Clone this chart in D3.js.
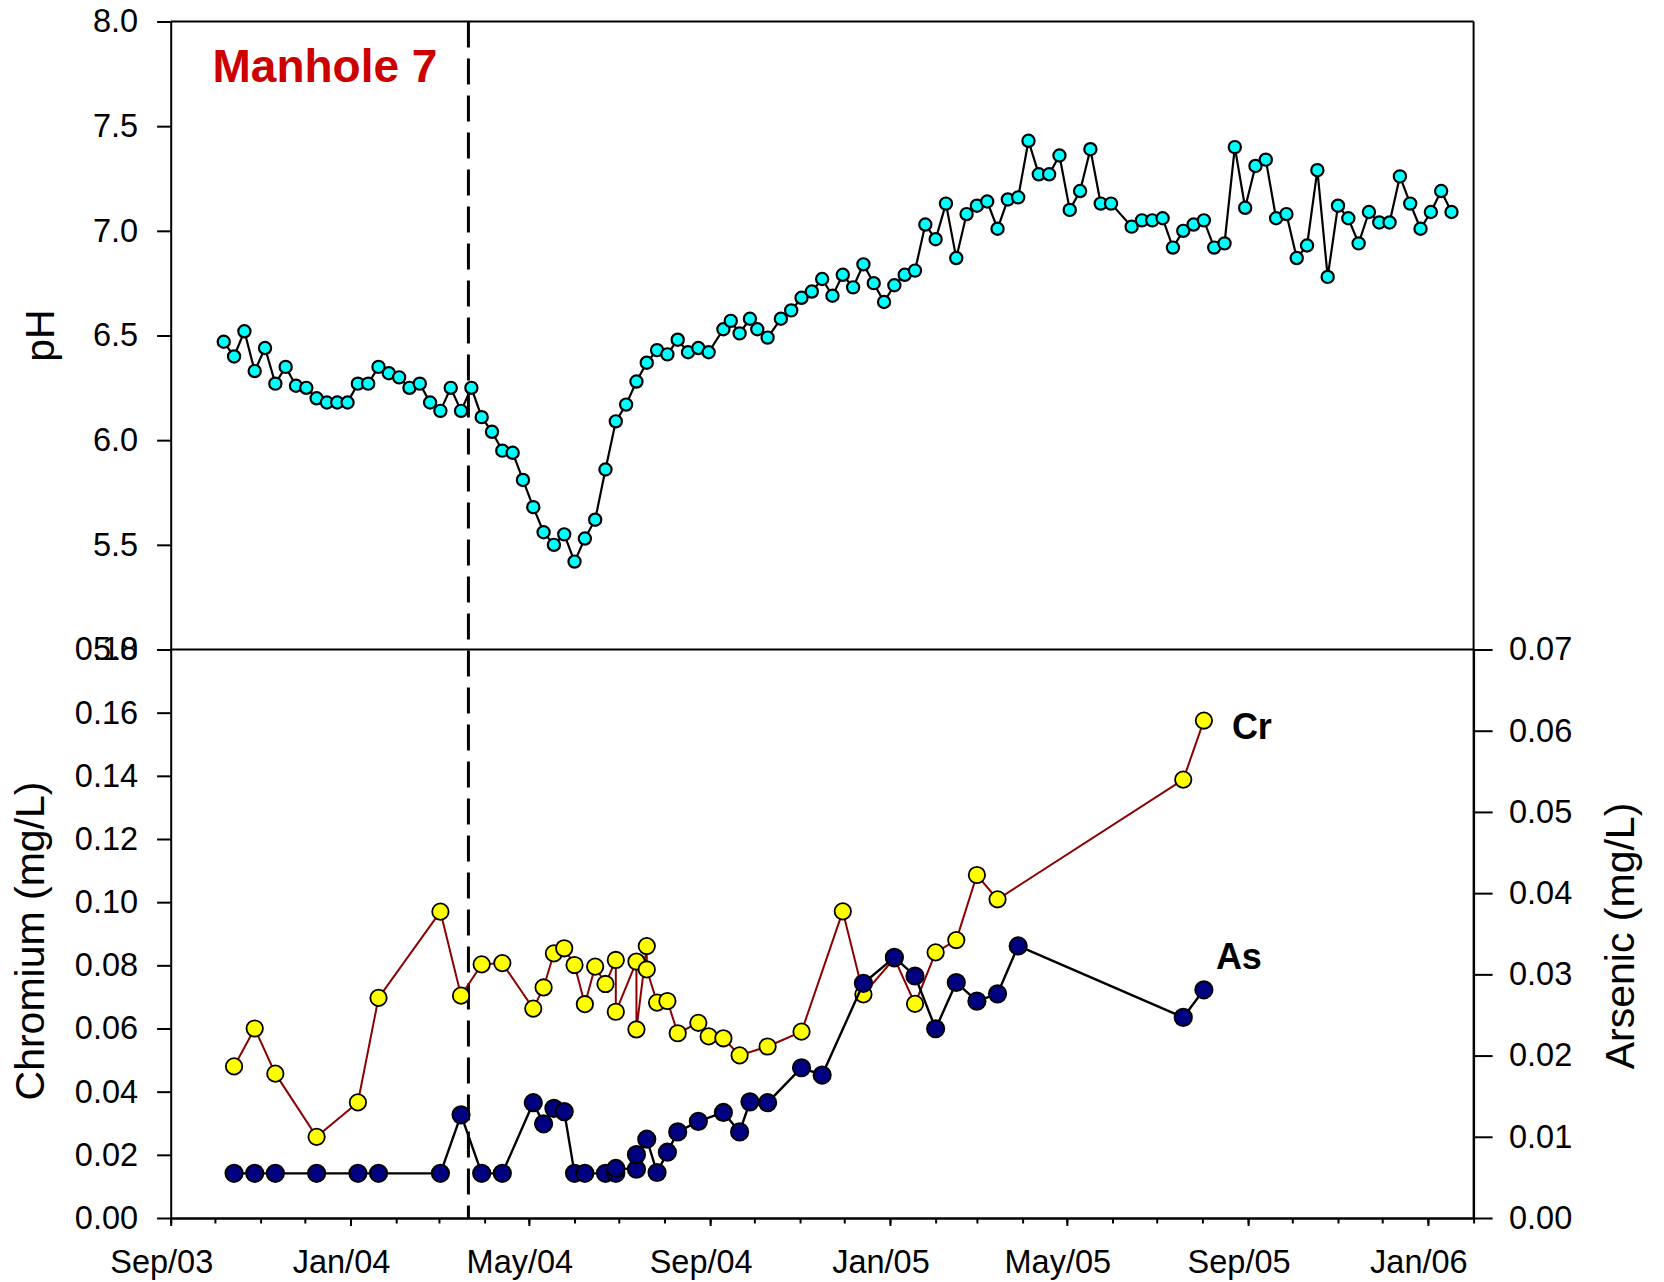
<!DOCTYPE html>
<html>
<head>
<meta charset="utf-8">
<script src="https://cdn.jsdelivr.net/npm/d3@7"></script>
<style>
  html, body { margin: 0; padding: 0; background: #fff; }
  svg { display: block; font-family: "Liberation Sans", Arial, Helvetica, sans-serif; }
</style>
</head>
<body>
<svg id="chart" width="1664" height="1282"></svg>
<script>
// ---------------- DATA ----------------
const phDates = [
  "2003-10-07","2003-10-14","2003-10-21","2003-10-28",
  "2003-11-04","2003-11-11","2003-11-18","2003-11-25",
  "2003-12-02","2003-12-09","2003-12-16","2003-12-23","2003-12-30",
  "2004-01-06","2004-01-13","2004-01-20","2004-01-27",
  "2004-02-03","2004-02-10","2004-02-17","2004-02-24",
  "2004-03-02","2004-03-09","2004-03-16","2004-03-23","2004-03-30",
  "2004-04-06","2004-04-13","2004-04-20","2004-04-27",
  "2004-05-04","2004-05-11","2004-05-18","2004-05-25",
  "2004-06-01","2004-06-08","2004-06-15","2004-06-22","2004-06-29",
  "2004-07-06","2004-07-13","2004-07-20","2004-07-27",
  "2004-08-03","2004-08-10","2004-08-17","2004-08-24","2004-08-31",
  "2004-09-10","2004-09-15","2004-09-21","2004-09-28",
  "2004-10-03","2004-10-10","2004-10-19","2004-10-26",
  "2004-11-02","2004-11-09","2004-11-16","2004-11-23","2004-11-30",
  "2004-12-07","2004-12-14","2004-12-21","2004-12-28",
  "2005-01-04","2005-01-11","2005-01-18","2005-01-25",
  "2005-02-01","2005-02-08","2005-02-15","2005-02-22",
  "2005-03-01","2005-03-08","2005-03-15","2005-03-22","2005-03-29",
  "2005-04-05","2005-04-12","2005-04-19","2005-04-26",
  "2005-05-03","2005-05-10","2005-05-17","2005-05-24","2005-05-31",
  "2005-06-14","2005-06-21","2005-06-28",
  "2005-07-05","2005-07-12","2005-07-19","2005-07-26",
  "2005-08-02","2005-08-09","2005-08-16","2005-08-23","2005-08-30",
  "2005-09-06","2005-09-13","2005-09-20","2005-09-27",
  "2005-10-04","2005-10-11","2005-10-18","2005-10-25",
  "2005-11-01","2005-11-08","2005-11-15","2005-11-22","2005-11-29",
  "2005-12-06","2005-12-13","2005-12-20","2005-12-27",
  "2006-01-03","2006-01-10","2006-01-17"
];
const phValues = [
  6.47, 6.40, 6.52, 6.33,
  6.44, 6.27, 6.35, 6.26,
  6.25, 6.20, 6.18, 6.18, 6.18,
  6.27, 6.27, 6.35, 6.32,
  6.30, 6.25, 6.27, 6.18,
  6.14, 6.25, 6.14, 6.25, 6.11,
  6.04, 5.95, 5.94, 5.81,
  5.68, 5.56, 5.50, 5.55,
  5.42, 5.53, 5.62, 5.86, 6.09,
  6.17, 6.28, 6.37, 6.43,
  6.41, 6.48, 6.42, 6.44, 6.42,
  6.53, 6.57, 6.51, 6.58,
  6.53, 6.49, 6.58, 6.62,
  6.68, 6.71, 6.77, 6.69, 6.79,
  6.73, 6.84, 6.75, 6.66,
  6.74, 6.79, 6.81, 7.03,
  6.96, 7.13, 6.87, 7.08,
  7.12, 7.14, 7.01, 7.15, 7.16,
  7.43, 7.27, 7.27, 7.36,
  7.10, 7.19, 7.39, 7.13, 7.13,
  7.02, 7.05, 7.05,
  7.06, 6.92, 7.00, 7.03,
  7.05, 6.92, 6.94, 7.40, 7.11,
  7.31, 7.34, 7.06, 7.08,
  6.87, 6.93, 7.29, 6.78,
  7.12, 7.06, 6.94, 7.09, 7.04,
  7.04, 7.26, 7.13, 7.01,
  7.09, 7.19, 7.09
];

const crDates = [
  "2003-10-14","2003-10-28","2003-11-11","2003-12-09","2004-01-06","2004-01-20",
  "2004-03-02","2004-03-16","2004-03-30","2004-04-13","2004-05-04","2004-05-11",
  "2004-05-18","2004-05-25","2004-06-01","2004-06-08","2004-06-15","2004-06-22",
  "2004-06-29","2004-06-29","2004-07-13","2004-07-13","2004-07-20","2004-07-20",
  "2004-07-27","2004-08-03","2004-08-10","2004-08-24","2004-08-31","2004-09-10",
  "2004-09-21","2004-10-10","2004-11-02","2004-11-30","2004-12-14","2005-01-04",
  "2005-01-18","2005-02-01","2005-02-15","2005-03-01","2005-03-15","2005-07-19",
  "2005-08-02"
];
const crValues = [
  0.0480, 0.0600, 0.0457, 0.0257, 0.0366, 0.0697,
  0.0970, 0.0704, 0.0803, 0.0807, 0.0663, 0.0730,
  0.0838, 0.0854, 0.0801, 0.0677, 0.0796, 0.0741,
  0.0817, 0.0653, 0.0812, 0.0597, 0.0861, 0.0787,
  0.0682, 0.0687, 0.0585, 0.0618, 0.0575, 0.0569,
  0.0515, 0.0543, 0.0590, 0.0971, 0.0708, 0.0822,
  0.0678, 0.0841, 0.0880, 0.1086, 0.1009, 0.1388,
  0.1575
];

const asDates = [
  "2003-10-14","2003-10-28","2003-11-11","2003-12-09","2004-01-06","2004-01-20",
  "2004-03-02","2004-03-16","2004-03-30","2004-04-13","2004-05-04","2004-05-11",
  "2004-05-18","2004-05-25","2004-06-01","2004-06-08","2004-06-22","2004-06-29",
  "2004-06-29","2004-07-13","2004-07-13","2004-07-20","2004-07-27","2004-08-03",
  "2004-08-10","2004-08-24","2004-09-10","2004-09-21","2004-09-28","2004-10-10",
  "2004-11-02","2004-11-16","2004-12-14","2005-01-04","2005-01-18","2005-02-01",
  "2005-02-15","2005-03-01","2005-03-15","2005-03-29","2005-07-19","2005-08-02"
];
const asValues = [
  0.0055, 0.0055, 0.0055, 0.0055, 0.0055, 0.0055,
  0.0055, 0.0127, 0.0055, 0.0055, 0.0142, 0.0116,
  0.0135, 0.0131, 0.0055, 0.0055, 0.0055, 0.0055,
  0.0061, 0.0060, 0.0078, 0.0097, 0.0056, 0.0081,
  0.0106, 0.0119, 0.0130, 0.0106, 0.0143, 0.0142,
  0.0185, 0.0176, 0.0289, 0.0321, 0.0298, 0.0233,
  0.0290, 0.0267, 0.0276, 0.0335, 0.0247, 0.0281
];

const xDomain = ["2003-09-01", "2006-02-01"];
const xMajorTicks = ["2003-09-01","2004-01-01","2004-05-01","2004-09-01","2005-01-01","2005-05-01","2005-09-01","2006-01-01"];
const phTicks = [5.0, 5.5, 6.0, 6.5, 7.0, 7.5, 8.0];
const crTicks = [0.00, 0.02, 0.04, 0.06, 0.08, 0.10, 0.12, 0.14, 0.16, 0.18];
const asTicks = [0.00, 0.01, 0.02, 0.03, 0.04, 0.05, 0.06, 0.07];
const eventDate = "2004-03-21";
const titleText = "Manhole 7";

// ---------------- LAYOUT ----------------
const L = 170.7, R = 1473.6, T = 21.5, M = 649.5, B = 1218;
const parse = d3.utcParse("%Y-%m-%d");
const svg = d3.select("#chart");

const x = d3.scaleUtc().domain(xDomain.map(parse)).range([L, R]);
const yPH = d3.scaleLinear().domain([5, 8]).range([M, T]);
const yCr = d3.scaleLinear().domain([0, 0.18]).range([B, M]);
const yAs = d3.scaleLinear().domain([0, 0.07]).range([B, M]);

const tickFont = 32.5;

// frame lines
svg.append("line").attr("x1", L).attr("x2", R).attr("y1", T).attr("y2", T)
  .attr("stroke", "#000").attr("stroke-width", 2);
svg.append("line").attr("x1", L).attr("x2", R).attr("y1", M).attr("y2", M)
  .attr("stroke", "#000").attr("stroke-width", 2);

// pH axis (left, upper)
svg.append("g").attr("transform", `translate(${L},0)`)
  .call(d3.axisLeft(yPH).tickValues(phTicks).tickFormat(d3.format(".1f"))
    .tickSize(13.6).tickSizeOuter(0).tickPadding(19));
// Cr axis (left, lower)
svg.append("g").attr("transform", `translate(${L},0)`)
  .call(d3.axisLeft(yCr).tickValues(crTicks).tickFormat(d3.format(".2f"))
    .tickSize(13.6).tickSizeOuter(0).tickPadding(19));
// As axis (right, lower)
svg.append("g").attr("transform", `translate(${R},0)`)
  .call(d3.axisRight(yAs).tickValues(asTicks).tickFormat(d3.format(".2f"))
    .tickSize(19).tickSizeOuter(0).tickPadding(16.4));
// right line through upper panel
svg.append("line").attr("x1", R).attr("x2", R).attr("y1", T).attr("y2", B)
  .attr("stroke", "#000").attr("stroke-width", 2);
// bottom axis: minor monthly ticks
const minorTicks = d3.utcMonth.range(parse(xDomain[0]), d3.utcDay.offset(parse(xDomain[1]), 1));
svg.append("g").attr("transform", `translate(0,${B})`)
  .call(d3.axisBottom(x).tickValues(minorTicks).tickFormat("").tickSize(5.5).tickSizeOuter(0));
// bottom axis: major ticks + labels
const fmt = d3.utcFormat("%b/%y");
const axX = svg.append("g").attr("transform", `translate(0,${B})`)
  .call(d3.axisBottom(x).tickValues(xMajorTicks.map(parse)).tickFormat(fmt)
    .tickSize(8).tickSizeOuter(0).tickPadding(24));
axX.selectAll("text").attr("dx", -9.5);

svg.selectAll(".domain").attr("stroke", "#000").attr("stroke-width", 2);
svg.selectAll(".tick line").attr("stroke", "#000").attr("stroke-width", 2);
svg.selectAll(".tick text").attr("font-size", tickFont)
  .attr("font-family", "'Liberation Sans', Arial, sans-serif").attr("fill", "#000");

// axis titles
svg.append("text").attr("transform", `translate(54,335.5) rotate(-90)`)
  .attr("text-anchor", "middle").attr("font-size", 41).text("pH");
svg.append("text").attr("transform", `translate(44,941) rotate(-90)`)
  .attr("text-anchor", "middle").attr("font-size", 41).text("Chromium (mg/L)");
svg.append("text").attr("transform", `translate(1634,936) rotate(-90)`)
  .attr("text-anchor", "middle").attr("font-size", 41).text("Arsenic (mg/L)");

// event dashed line
svg.append("line")
  .attr("x1", x(parse(eventDate))).attr("x2", x(parse(eventDate)))
  .attr("y1", T).attr("y2", B)
  .attr("stroke", "#000").attr("stroke-width", 3)
  .attr("stroke-dasharray", "26,11");

// title
svg.append("text").attr("x", 212.5).attr("y", 82)
  .attr("font-size", 46).attr("font-weight", "bold").attr("fill", "#cc0000")
  .text(titleText);

// pH series
const ph = phDates.map((d, i) => ({ d: parse(d), v: phValues[i] }));
svg.append("path").datum(ph)
  .attr("fill", "none").attr("stroke", "#000").attr("stroke-width", 2.2)
  .attr("d", d3.line().x(p => x(p.d)).y(p => yPH(p.v)));
svg.append("g").selectAll("circle").data(ph).join("circle")
  .attr("cx", p => x(p.d)).attr("cy", p => yPH(p.v)).attr("r", 6.1)
  .attr("fill", "#00ffff").attr("stroke", "#000").attr("stroke-width", 2.2);

// Cr series
const cr = crDates.map((d, i) => ({ d: parse(d), v: crValues[i] }));
svg.append("path").datum(cr)
  .attr("fill", "none").attr("stroke", "#8b0000").attr("stroke-width", 2)
  .attr("d", d3.line().x(p => x(p.d)).y(p => yCr(p.v)));
svg.append("g").selectAll("circle").data(cr).join("circle")
  .attr("cx", p => x(p.d)).attr("cy", p => yCr(p.v)).attr("r", 8.2)
  .attr("fill", "#ffff00").attr("stroke", "#000").attr("stroke-width", 1.8);

// As series
const as = asDates.map((d, i) => ({ d: parse(d), v: asValues[i] }));
svg.append("path").datum(as)
  .attr("fill", "none").attr("stroke", "#000").attr("stroke-width", 2.4)
  .attr("d", d3.line().x(p => x(p.d)).y(p => yAs(p.v)));
svg.append("g").selectAll("circle").data(as).join("circle")
  .attr("cx", p => x(p.d)).attr("cy", p => yAs(p.v)).attr("r", 8.6)
  .attr("fill", "#000080").attr("stroke", "#000").attr("stroke-width", 2);

// series labels
const lastCr = cr[cr.length - 1], lastAs = as[as.length - 1];
svg.append("text").attr("x", x(lastCr.d) + 28).attr("y", yCr(lastCr.v) + 18.5)
  .attr("font-size", 36).attr("font-weight", "bold").text("Cr");
svg.append("text").attr("x", x(lastAs.d) + 12).attr("y", yAs(lastAs.v) - 21)
  .attr("font-size", 36).attr("font-weight", "bold").text("As");
</script>
</body>
</html>
